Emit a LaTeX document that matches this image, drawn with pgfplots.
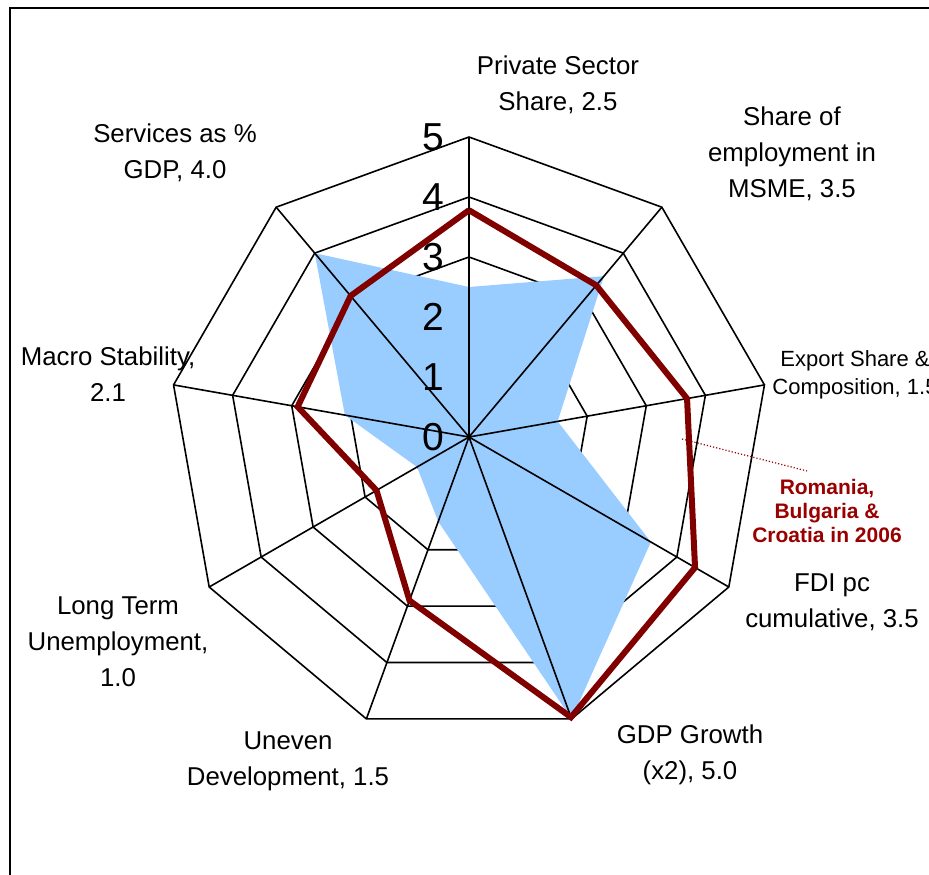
\documentclass[border=0pt]{standalone}
\usepackage{pgfplots}
\pgfplotsset{compat=1.18}
\usepackage{fontspec}
\setmainfont{Liberation Sans}
\definecolor{fillblue}{HTML}{99CCFF}
\definecolor{maroon}{HTML}{800000}
\definecolor{annot}{HTML}{990000}
\begin{document}
\begin{tikzpicture}
\path[use as bounding box] (-234.5pt,-218.5pt) rectangle (230pt,218.5pt);
\begin{axis}[
  x=30pt, y=30pt, anchor=origin, at={(0,0)},
  hide axis, clip=false,
  xmin=-7.817, xmax=7.667, ymin=-7.283, ymax=7.283,
  every axis plot/.append style={data cs=polar},
]
% grid rings
\foreach \r in {1,2,3,4,5}{
\addplot[black, line width=0.8pt] coordinates {
 (90,\r) (50,\r) (10,\r) (-30,\r) (-70,\r) (-110,\r) (-150,\r) (170,\r) (130,\r) (90,\r)};
}
% blue series
\addplot[fill=fillblue, draw=none] coordinates {
 (90,2.5) (50,3.5) (10,1.5) (-30,3.5) (-70,5.0) (-110,1.5) (-150,1.0) (170,2.1) (130,4.0) (90,2.5)};
% spokes
\foreach \a in {90,50,10,-30,-70,-110,-150,170,130}{
\addplot[black, line width=0.8pt] coordinates {(\a,0) (\a,5)};
}
% red series
\addplot[maroon, line width=3pt, line join=miter] coordinates {
 (90,3.78) (50,3.3) (10,3.69) (-30,4.35) (-70,4.97) (-110,2.9) (-150,1.78) (170,2.9) (130,3.07) (90,3.78)};
\end{axis}
% axis numbers
\begin{scope}[every node/.style={font=\fontsize{19.5}{19.5}\selectfont, inner sep=0pt}]
\node at (-18pt,0pt) {0};
\node at (-18pt,30pt) {1};
\node at (-18pt,60pt) {2};
\node at (-18pt,90pt) {3};
\node at (-18pt,120pt) {4};
\node at (-18pt,150pt) {5};
\end{scope}
% category labels
\begin{scope}[every node/.style={font=\fontsize{12.9}{18}\selectfont, align=center, inner sep=0pt}]
\node at (44.5pt,176pt) {Private Sector\\Share, 2.5};
\node at (161.5pt,141.5pt) {Share of\\employment in\\MSME, 3.5};
\node[font=\fontsize{11}{14}\selectfont] at (193pt,31pt) {Export Share \&\\Composition, 1.5};
\node at (181.5pt,-82.5pt) {FDI pc\\cumulative, 3.5};
\node at (110.5pt,-159pt) {GDP Growth\\(x2), 5.0};
\node at (-90.5pt,-162pt) {Uneven\\Development, 1.5};
\node at (-175.5pt,-102.5pt) {Long Term\\Unemployment,\\1.0};
\node at (-180.5pt,31.5pt) {Macro Stability,\\2.1};
\node at (-147pt,142pt) {Services as \%\\GDP, 4.0};
\end{scope}
% annotation
\draw[annot, densely dotted, line width=0.6pt] (106.5pt,-1pt) -- (169pt,-17pt);
\node[annot, font=\fontsize{10.5}{12}\selectfont\bfseries, align=center, inner sep=0pt] at (179pt,-37pt) {Romania,\\Bulgaria \&\\Croatia in 2006};
% frame
\draw[black, line width=1pt] (-229.5pt,-230pt) -- (-229.5pt,214.5pt) -- (240pt,214.5pt);
\end{tikzpicture}
\end{document}
